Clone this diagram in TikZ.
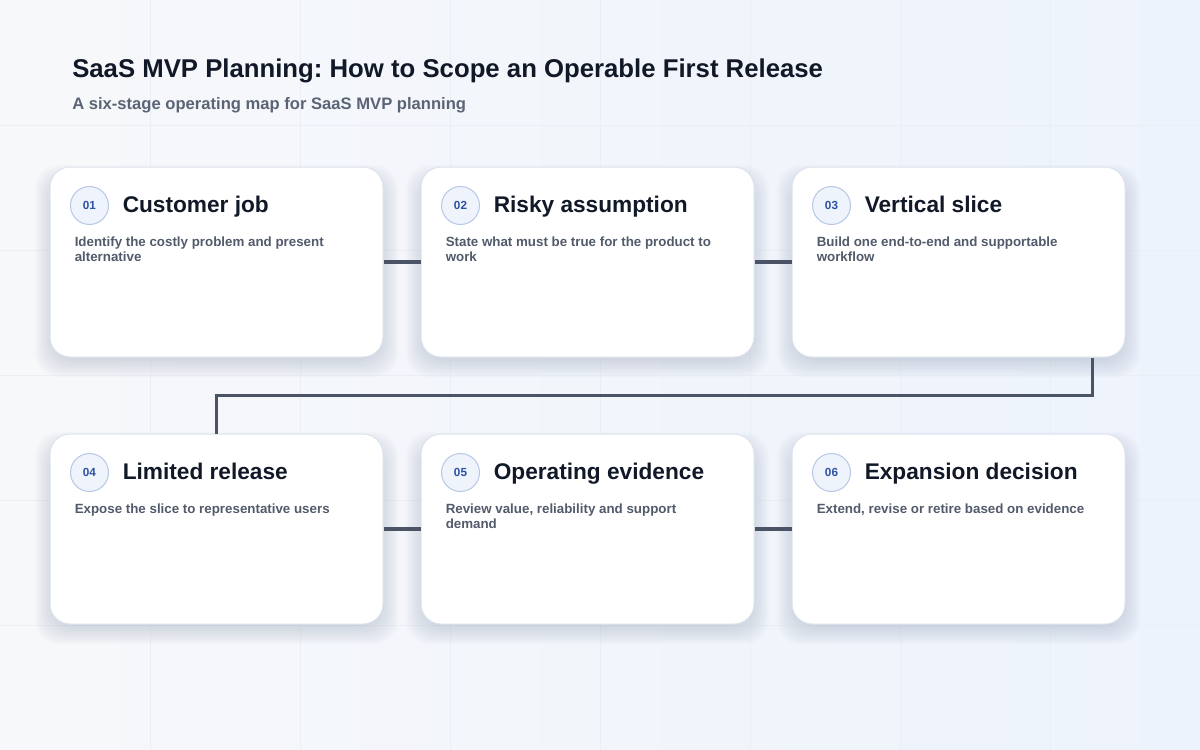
\documentclass[tikz,border=0pt]{standalone}
\usepackage{fontspec}
\setmainfont{Liberation Sans}
\frenchspacing
\usetikzlibrary{positioning, calc}

\definecolor{bgtop}{HTML}{F7F8FA}
\definecolor{bgbot}{HTML}{EDF3FC}
\definecolor{gridc}{HTML}{EBEFF5}
\definecolor{cardline}{HTML}{DCE3EC}
\definecolor{shadowc}{HTML}{7F8CAA}
\definecolor{link}{HTML}{4A5466}
\definecolor{titlec}{HTML}{111827}
\definecolor{subc}{HTML}{5B6475}
\definecolor{descc}{HTML}{525B6B}
\definecolor{badgefill}{HTML}{EEF3FC}
\definecolor{badgeline}{HTML}{B7C7E6}
\definecolor{badgetext}{HTML}{2D52A3}

\tikzset{
  card/.style={draw=cardline, line width=0.75pt, fill=white, rounded corners=15pt,
    minimum width=249.75pt, minimum height=142.5pt},
  cardshadow/.style={fill=shadowc, fill opacity=0.03, rounded corners=18pt},
  badge/.style={circle, draw=badgeline, line width=0.75pt, fill=badgefill, minimum size=28.5pt,
    inner sep=0pt, text=badgetext, font=\bfseries\fontsize{8.8pt}{10pt}\selectfont},
  cardtitle/.style={anchor=base west, inner sep=0pt, text=titlec,
    font=\bfseries\fontsize{17pt}{20pt}\selectfont},
  carddesc/.style={anchor=north west, inner sep=0pt, align=left, text=descc,
    font=\bfseries\fontsize{10pt}{10.9pt}\selectfont},
  link/.style={draw=link, line width=2.5pt}
}

\begin{document}
\begin{tikzpicture}[x=0.75pt, y=-0.75pt, node distance={200.25pt and 278.25pt}, on grid]
  % background and faint grid
  \shade[left color=bgtop, right color=bgbot] (0,0) rectangle (1200,750);
  \useasboundingbox (0,0) rectangle (1200,750);
  \foreach \gx in {150,300,...,1050} \draw[gridc, line width=0.5pt] (\gx,0) -- (\gx,750);
  \foreach \gy in {125,250,...,625} \draw[gridc, line width=0.5pt] (0,\gy) -- (1200,\gy);

  % heading
  \node[anchor=base west, inner sep=0pt, text=titlec, font=\bfseries\fontsize{19.3pt}{22pt}\selectfont]
    (title) at (72,77) {SaaS MVP Planning: How to Scope an Operable First Release};
  \node[anchor=base west, inner sep=0pt, text=subc, font=\bfseries\fontsize{12.45pt}{14pt}\selectfont]
    (subtitle) at (72,109) {A six-stage operating map for SaaS MVP planning};

  % soft shadows under the cards
  \foreach \cx/\cy in {50/167, 421/167, 792/167, 50/434, 421/434, 792/434}
    \foreach \s in {2,4,...,20}
      \fill[cardshadow] (\cx-\s+5,\cy-\s+18) rectangle (\cx+333+\s-5,\cy+190+\s);

  % cards
  \coordinate (c1pos) at (216.5,262);
  \node[card] (c1) at (c1pos) {};
  \node[card] (c2) [right=of c1] {};
  \node[card] (c3) [right=of c2] {};
  \node[card] (c4) [below=of c1] {};
  \node[card] (c5) [right=of c4] {};
  \node[card] (c6) [right=of c5] {};

  % connectors
  \coordinate (turn) at ($(c3.south east)+(-33,0)$);
  \path[link]
    (c1.east) -- (c2.west)
    (c2.east) -- (c3.west)
    (turn) -- ++(0,38) -| (c4.north)
    (c4.east) -- (c5.west)
    (c5.east) -- (c6.west);

  % card contents
  \node[badge] (b1) at ($(c1.north west)+(40,39)$) {01};
  \node[cardtitle] (t1) at ($(c1.north west)+(73,46)$) {Customer job};
  \node[carddesc] (d1) at ($(c1.north west)+(25,70.5)$) {Identify the costly problem and present\\alternative};

  \node[badge] (b2) at ($(c2.north west)+(40,39)$) {02};
  \node[cardtitle] (t2) at ($(c2.north west)+(73,46)$) {Risky assumption};
  \node[carddesc] (d2) at ($(c2.north west)+(25,70.5)$) {State what must be true for the product to\\work};

  \node[badge] (b3) at ($(c3.north west)+(40,39)$) {03};
  \node[cardtitle] (t3) at ($(c3.north west)+(73,46)$) {Vertical slice};
  \node[carddesc] (d3) at ($(c3.north west)+(25,70.5)$) {Build one end-to-end and supportable\\workflow};

  \node[badge] (b4) at ($(c4.north west)+(40,39)$) {04};
  \node[cardtitle] (t4) at ($(c4.north west)+(73,46)$) {Limited release};
  \node[carddesc] (d4) at ($(c4.north west)+(25,70.5)$) {Expose the slice to representative users};

  \node[badge] (b5) at ($(c5.north west)+(40,39)$) {05};
  \node[cardtitle] (t5) at ($(c5.north west)+(73,46)$) {Operating evidence};
  \node[carddesc] (d5) at ($(c5.north west)+(25,70.5)$) {Review value, reliability and support\\demand};

  \node[badge] (b6) at ($(c6.north west)+(40,39)$) {06};
  \node[cardtitle] (t6) at ($(c6.north west)+(73,46)$) {Expansion decision};
  \node[carddesc] (d6) at ($(c6.north west)+(25,70.5)$) {Extend, revise or retire based on evidence};
\end{tikzpicture}
\end{document}
